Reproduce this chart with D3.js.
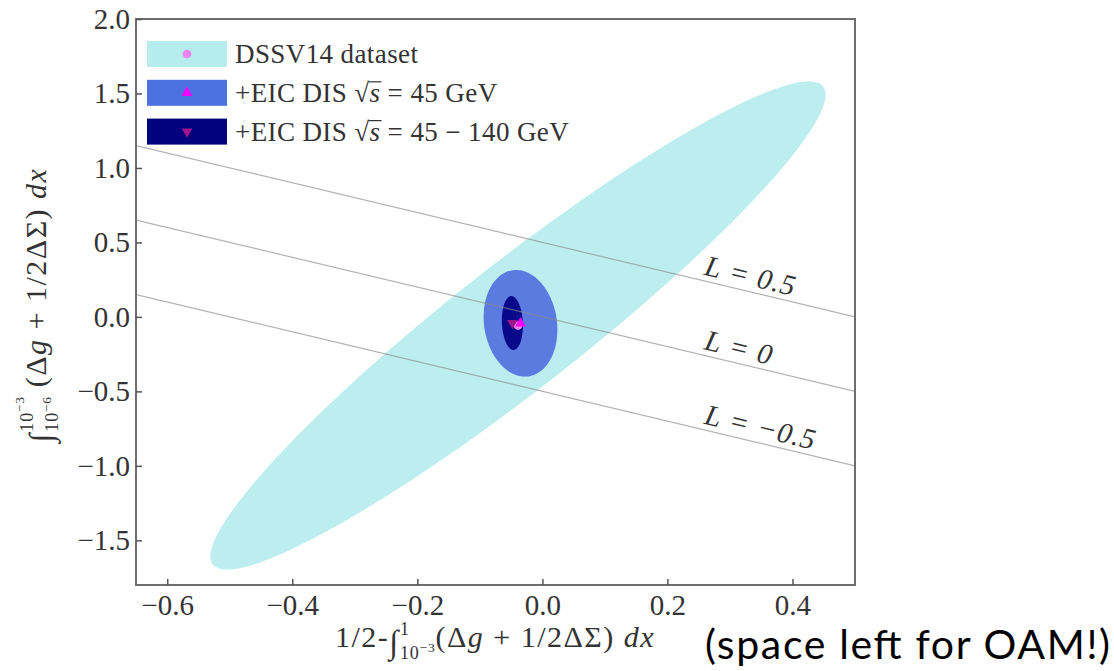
<!DOCTYPE html>
<html>
<head>
<meta charset="utf-8">
<script src="https://cdn.jsdelivr.net/npm/d3@7"></script>
<style>
  body { margin: 0; background: #fff; }
  svg text { font-family: 'Liberation Serif', 'DejaVu Serif', serif; fill: #333; white-space: pre; }
</style>
</head>
<body>
<svg id="chart" width="1114" height="671"></svg>
<script>
const xTicks = [-0.6, -0.4, -0.2, 0.0, 0.2, 0.4]
const yTicks = [-1.5, -1.0, -0.5, 0.0, 0.5, 1.0, 1.5, 2.0]

// 1-sigma error ellipses: centre, widths and correlation
const setNames = ['DSSV14', 'EIC45', 'EIC45_140']
const centerX = [-0.039, -0.035, -0.048]
const centerY = [-0.058, -0.043, -0.041]
const sigmaX = [0.492, 0.059, 0.0168]
const sigmaY = [1.639, 0.358, 0.181]
const rho = [0.9455, -0.12, -0.1]

const fills = ['#bdeeef', '#5b7be0', '#08088a']
const legendFills = ['#b6ecec', '#4d70df', '#02027f']
const markerColors = ['#ee82ee', '#ff00ff', '#a0148c']

// lines of constant L : y = L - x
const lValues = [0.5, 0, -0.5]
const lLabels = ['0.5', '0', '−0.5']
const lLabelX = 0.255

const svg = d3.select('#chart')

const x = d3.scaleLinear().domain([-0.65, 0.5]).range([136, 855])
const y = d3.scaleLinear().domain([-1.8, 2.0]).range([585, 19])

svg.append('defs').append('clipPath').attr('id', 'plot-clip')
  .append('rect')
  .attr('x', x.range()[0]).attr('y', y.range()[1])
  .attr('width', x.range()[1] - x.range()[0])
  .attr('height', y.range()[0] - y.range()[1])

const plot = svg.append('g').attr('clip-path', 'url(#plot-clip)')

// ellipses
const angles = d3.range(0, 2 * Math.PI, Math.PI / 90)
const line = d3.line().curve(d3.curveLinearClosed)
setNames.forEach((name, i) => {
  const pts = angles.map(t => [
    x(centerX[i] + sigmaX[i] * Math.cos(t)),
    y(centerY[i] + sigmaY[i] * (rho[i] * Math.cos(t) + Math.sqrt(1 - rho[i] * rho[i]) * Math.sin(t)))
  ])
  plot.append('path')
    .attr('class', 'ellipse ' + name)
    .attr('d', line(pts))
    .attr('fill', fills[i])
})

// L lines
lValues.forEach(L => {
  plot.append('line')
    .attr('x1', x(-0.65)).attr('y1', y(L + 0.65))
    .attr('x2', x(0.5)).attr('y2', y(L - 0.5))
    .attr('stroke', '#8a8a8a')
    .attr('stroke-opacity', 0.65)
    .attr('stroke-width', 1.2)
})

// markers at the centres
const symbols = [d3.symbolCircle, d3.symbolTriangle, d3.symbolTriangle]
const symbolSize = [60, 50, 50]
function marker(g, i, cx, cy) {
  g.append('path')
    .attr('d', d3.symbol(symbols[i], symbolSize[i])())
    .attr('transform', `translate(${cx},${cy})` + (i === 2 ? ' rotate(180)' : ''))
    .attr('fill', markerColors[i])
}
setNames.forEach((name, i) => marker(plot, i, x(centerX[i]), y(centerY[i])))

// L labels along the lines
const slopeDeg = Math.atan2(y(-1) - y(0), x(1) - x(0)) * 180 / Math.PI
lValues.forEach((L, i) => {
  const px = x(lLabelX), py = y(L - lLabelX)
  svg.append('text')
    .attr('transform', `translate(${px},${py}) rotate(${slopeDeg}) translate(0,-6)`)
    .style('font-size', '29px')
    .style('font-style', 'italic')
    .style('letter-spacing', '1px')
    .text('L = ' + lLabels[i])
})

// frame
svg.append('rect')
  .attr('x', x.range()[0]).attr('y', y.range()[1])
  .attr('width', x.range()[1] - x.range()[0])
  .attr('height', y.range()[0] - y.range()[1])
  .attr('fill', 'none')
  .attr('stroke', '#6e6e6e')
  .attr('stroke-width', 2)

// axes
const xAxis = d3.axisBottom(x).tickValues(xTicks).tickFormat(d3.format('.1f'))
  .tickSizeInner(-6).tickSizeOuter(0).tickPadding(9)
const yAxis = d3.axisLeft(y).tickValues(yTicks).tickFormat(d3.format('.1f'))
  .tickSizeInner(-6).tickSizeOuter(0).tickPadding(6)

const gx = svg.append('g').attr('transform', `translate(0,${y.range()[0]})`).call(xAxis)
const gy = svg.append('g').attr('transform', `translate(${x.range()[0]},0)`).call(yAxis)
;[gx, gy].forEach(g => {
  g.attr('font-family', null).attr('font-size', null)
  g.select('.domain').remove()
  g.selectAll('.tick line').attr('stroke', '#555').attr('stroke-width', 1.5)
  g.selectAll('.tick text')
    .attr('fill', '#3a3a3a')
    .style('font-family', "'Liberation Serif', 'DejaVu Serif', serif")
    .style('font-size', '29px')
})

// small layout helper for math-like labels
// back: start under the anchored piece, join: start right after the previous piece
function mathText(g, parts, size, spacing) {
  let cx = 0, anchor = 0, lastEnd = 0
  parts.forEach(p => {
    const start = p.back ? anchor : (p.join ? lastEnd : cx)
    if (p.anchor) anchor = cx
    const t = g.append('text')
      .attr('x', start)
      .attr('y', (p.dy || 0) * size)
      .style('font-size', size * (p.s || 1) + 'px')
      .style('font-style', p.it ? 'italic' : 'normal')
      .style('letter-spacing', (spacing || 0) * (p.s || 1) + 'px')
      .text(p.t)
    const w = t.node().getComputedTextLength()
    if (p.over) {
      g.append('line')
        .attr('x1', start - 1).attr('x2', start + w + 1)
        .attr('y1', -0.74 * size).attr('y2', -0.74 * size)
        .attr('stroke', '#333').attr('stroke-width', 1.2)
    }
    lastEnd = start + w
    cx = Math.max(cx, lastEnd)
  })
  return cx
}

const integralLabel = [
  { t: '(Δ' }, { t: 'g', it: true }, { t: ' + 1/2ΔΣ) ' }, { t: 'dx', it: true }
]
const xLabelParts = [
  { t: '1/2-' }, { t: '∫', s: 1.1, dy: 0.2 },
  { t: '1', s: 0.6, dy: -0.4, anchor: true },
  { t: '10', s: 0.6, dy: 0.4, back: true }, { t: '−3', s: 0.45, dy: 0.18, join: true }
].concat(integralLabel)
const yLabelParts = [
  { t: '∫', s: 1.1, dy: 0.2 },
  { t: '10', s: 0.6, dy: -0.45, anchor: true }, { t: '−3', s: 0.45, dy: -0.72, join: true },
  { t: '10', s: 0.6, dy: 0.4, back: true }, { t: '−6', s: 0.45, dy: 0.16, join: true },
  { t: ' ' }
].concat(integralLabel)

const gxl = svg.append('g')
const wx = mathText(gxl.append('g'), xLabelParts, 30, 1.5)
gxl.attr('transform', `translate(${495 - wx / 2},647)`)

const gyl = svg.append('g')
const wy = mathText(gyl.append('g'), yLabelParts, 30, 1.5)
gyl.attr('transform', `translate(46,${305 + wy / 2}) rotate(-90)`)

// legend
const legendParts = [
  [{ t: 'DSSV14 dataset' }],
  [{ t: '+EIC DIS ' }, { t: '√' }, { t: 's', it: true, over: true }, { t: ' = 45 GeV' }],
  [{ t: '+EIC DIS ' }, { t: '√' }, { t: 's', it: true, over: true }, { t: ' = 45 − 140 GeV' }]
]
const legend = svg.append('g').attr('transform', 'translate(147,41)')
legendParts.forEach((parts, i) => {
  const row = legend.append('g').attr('transform', `translate(0,${i * 38.8})`)
  row.append('rect')
    .attr('width', 80).attr('height', 26)
    .attr('fill', legendFills[i])
  marker(row, i, 40, 13)
  mathText(row.append('g').attr('transform', 'translate(88,22)'), parts, 27, 0.4)
})

svg.append('text')
  .attr('x', 705).attr('y', 659)
  .attr('textLength', 405)
  .style('font-family', "Lato, 'Open Sans', sans-serif")
  .style('font-size', '41px')
  .style('fill', '#000')
  .text('(space left for OAM!)')
</script>
</body>
</html>
